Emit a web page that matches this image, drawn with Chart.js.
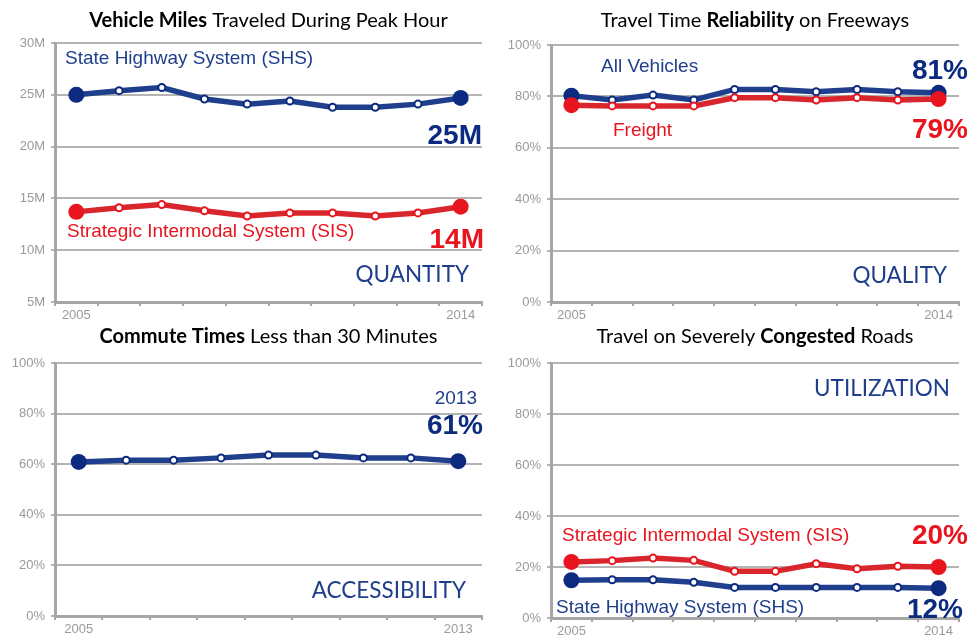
<!DOCTYPE html>
<html>
<head>
<meta charset="utf-8">
<script src="https://cdn.jsdelivr.net/npm/chart.js@4.4.1/dist/chart.umd.min.js"></script>
<style>
  body { margin: 0; background: #fff; }
  #wrap { position: relative; width: 967px; height: 643px; overflow: hidden; }
  canvas { position: absolute; }
</style>
</head>
<body>
<div id="wrap">
  <canvas id="vmtChart" width="490" height="330" style="left:0;top:0"></canvas>
  <canvas id="relChart" width="477" height="330" style="left:490px;top:0"></canvas>
  <canvas id="commuteChart" width="490" height="323" style="left:0;top:320px"></canvas>
  <canvas id="congChart" width="477" height="323" style="left:490px;top:320px"></canvas>
</div>
<script>
// years on the x axis
const years10 = ['2005', '2006', '2007', '2008', '2009', '2010', '2011', '2012', '2013', '2014'];
const years9 = ['2005', '2006', '2007', '2008', '2009', '2010', '2011', '2012', '2013'];

// vehicle miles traveled during peak hour (millions)
const vmtShs = [25.0, 25.4, 25.7, 24.6, 24.1, 24.4, 23.8, 23.8, 24.1, 24.7];
const vmtSis = [13.7, 14.1, 14.4, 13.8, 13.3, 13.6, 13.6, 13.3, 13.6, 14.2];
const vmtTicks = [5, 10, 15, 20, 25, 30];

// travel time reliability on freeways (%)
const relAll = [80.3, 78.6, 80.5, 78.6, 82.7, 82.7, 81.8, 82.7, 81.8, 81.4];
const relFreight = [76.6, 76.3, 76.3, 76.3, 79.5, 79.5, 78.6, 79.5, 78.6, 79.0];

// commute times less than 30 minutes (%)
const commute = [60.9, 61.6, 61.6, 62.5, 63.6, 63.6, 62.5, 62.5, 61.2];

// travel on severely congested roads (%)
const congSis = [22.0, 22.5, 23.5, 22.6, 18.3, 18.3, 21.3, 19.3, 20.3, 20.0];
const congShs = [14.8, 15.0, 15.0, 14.0, 12.0, 12.0, 12.0, 12.0, 12.0, 11.7];
const pctTicks = [0, 20, 40, 60, 80, 100];

const BLUE_LINE = '#1f3f8c';
const BLUE_DOT = '#0b2a80';
const RED_LINE = '#d9262c';
const RED_DOT = '#e8141e';
const NAVY_TEXT = '#1f3f8c';
const GRID = '#b4b4b4';
const AXIS = '#a6a6a6';
const TICK_TEXT = '#9a9a9a';
const SANS = '"Liberation Sans", Arial, sans-serif';
const TITLE_FONT = 'Lato, "Open Sans", sans-serif';
const BIG_WORD = '22.5px ' + TITLE_FONT;

function lastOf(arr) { return arr[arr.length - 1]; }

// line dataset: big filled dots at both ends, small hollow dots in between
function series(values, line, dot, order) {
    const n = values.length;
    const isEnd = c => c.dataIndex === 0 || c.dataIndex === n - 1;
    return {
        data: values,
        borderColor: line,
        borderWidth: 5.5,
        pointRadius: c => isEnd(c) ? 8 : 3.5,
        pointBorderWidth: c => isEnd(c) ? 0 : 2,
        pointBackgroundColor: c => isEnd(c) ? dot : '#fff',
        pointBorderColor: dot,
        tension: 0,
        order: order
    };
}

// titles with a bold part and free text labels, drawn after the chart
const overlayPlugin = {
    id: 'overlay',
    afterDraw(chart, args, opts) {
        const ctx = chart.ctx;
        const area = chart.chartArea;
        ctx.save();
        // title centered over the plot area
        const parts = opts.title;
        let total = 0;
        parts.forEach(p => {
            ctx.font = (p.bold ? 'bold ' : '') + '20px ' + TITLE_FONT;
            p.w = ctx.measureText(p.text).width;
            total += p.w;
        });
        let x = (area.left + area.right) / 2 - total / 2;
        ctx.fillStyle = '#000';
        ctx.textBaseline = 'alphabetic';
        ctx.textAlign = 'left';
        parts.forEach(p => {
            ctx.font = (p.bold ? 'bold ' : '') + '20px ' + TITLE_FONT;
            ctx.fillText(p.text, x, opts.titleY);
            x += p.w;
        });
        opts.labels.forEach(l => {
            ctx.font = l.font;
            ctx.fillStyle = l.color;
            ctx.textAlign = l.align || 'left';
            ctx.fillText(l.text, l.x, l.y);
        });
        ctx.restore();
    }
};

function makeChart(id, labels, datasets, yMin, yMax, yTicks, suffix, box, overlay) {
    const ctx = document.getElementById(id).getContext('2d');
    return new Chart(ctx, {
        type: 'line',
        data: { labels: labels, datasets: datasets },
        plugins: [overlayPlugin],
        options: {
            responsive: false,
            animation: false,
            devicePixelRatio: 1,
            layout: { padding: { top: box.top, right: 0, left: 0, bottom: 0 } },
            plugins: {
                legend: { display: false },
                tooltip: { enabled: false },
                overlay: overlay
            },
            scales: {
                x: {
                    offset: true,
                    grid: { drawOnChartArea: false, offset: true, tickLength: 4, color: AXIS, lineWidth: 2 },
                    border: { color: AXIS, width: 3 },
                    ticks: {
                        autoSkip: false,
                        maxRotation: 0,
                        padding: 2,
                        color: TICK_TEXT,
                        font: { family: SANS, size: 13 },
                        callback: (v, i) => (i === 0 || i === labels.length - 1) ? labels[i] : ''
                    },
                    afterFit: s => { s.height = box.xh; }
                },
                y: {
                    min: yMin,
                    max: yMax,
                    afterBuildTicks: s => { s.ticks = yTicks.map(v => ({ value: v })); },
                    grid: { color: GRID, lineWidth: 2, tickLength: 4 },
                    border: { color: AXIS, width: 3 },
                    ticks: {
                        padding: 6,
                        color: TICK_TEXT,
                        font: { family: SANS, size: 13 },
                        callback: v => v + suffix
                    },
                    afterFit: s => { s.width = box.yw; }
                }
            }
        }
    });
}

// Vehicle Miles Traveled
makeChart('vmtChart', years10,
    [series(vmtShs, BLUE_LINE, BLUE_DOT, 1), series(vmtSis, RED_LINE, RED_DOT, 0)],
    5, 30, vmtTicks, 'M', { top: 43, xh: 28, yw: 55 },
    {
        titleY: 27,
        title: [{ text: 'Vehicle Miles', bold: true }, { text: ' Traveled During Peak Hour' }],
        labels: [
            { text: 'State Highway System (SHS)', x: 65, y: 64, font: '19px ' + SANS, color: NAVY_TEXT },
            { text: Math.round(lastOf(vmtShs)) + 'M', x: 482, y: 144, align: 'right', font: 'bold 28px ' + SANS, color: BLUE_DOT },
            { text: 'Strategic Intermodal System (SIS)', x: 67, y: 237, font: '19px ' + SANS, color: RED_DOT },
            { text: Math.round(lastOf(vmtSis)) + 'M', x: 484, y: 248, align: 'right', font: 'bold 28px ' + SANS, color: RED_DOT },
            { text: 'QUANTITY', x: 469, y: 282, align: 'right', font: BIG_WORD, color: NAVY_TEXT }
        ]
    });

// Travel Time Reliability
makeChart('relChart', years10,
    [series(relAll, BLUE_LINE, BLUE_DOT, 1), series(relFreight, RED_LINE, RED_DOT, 0)],
    0, 100, pctTicks, '%', { top: 45, xh: 28, yw: 61 },
    {
        titleY: 27,
        title: [{ text: 'Travel Time ' }, { text: 'Reliability', bold: true }, { text: ' on Freeways' }],
        labels: [
            { text: 'All Vehicles', x: 111, y: 72, font: '19px ' + SANS, color: NAVY_TEXT },
            { text: Math.round(lastOf(relAll)) + '%', x: 478, y: 79, align: 'right', font: 'bold 28px ' + SANS, color: BLUE_DOT },
            { text: 'Freight', x: 123, y: 136, font: '19px ' + SANS, color: RED_DOT },
            { text: Math.round(lastOf(relFreight)) + '%', x: 478, y: 138, align: 'right', font: 'bold 28px ' + SANS, color: RED_DOT },
            { text: 'QUALITY', x: 457, y: 283, align: 'right', font: BIG_WORD, color: NAVY_TEXT }
        ]
    });

// Commute Times
makeChart('commuteChart', years9,
    [series(commute, BLUE_LINE, BLUE_DOT, 0)],
    0, 100, pctTicks, '%', { top: 43, xh: 27, yw: 55 },
    {
        titleY: 23,
        title: [{ text: 'Commute Times', bold: true }, { text: ' Less than 30 Minutes' }],
        labels: [
            { text: lastOf(years9), x: 477, y: 84, align: 'right', font: '19px ' + SANS, color: NAVY_TEXT },
            { text: Math.round(lastOf(commute)) + '%', x: 483, y: 114, align: 'right', font: 'bold 28px ' + SANS, color: BLUE_DOT },
            { text: 'ACCESSIBILITY', x: 466, y: 278, align: 'right', font: BIG_WORD, color: NAVY_TEXT }
        ]
    });

// Severely Congested Roads
makeChart('congChart', years10,
    [series(congSis, RED_LINE, RED_DOT, 1), series(congShs, BLUE_LINE, BLUE_DOT, 0)],
    0, 100, pctTicks, '%', { top: 43, xh: 25, yw: 61 },
    {
        titleY: 23,
        title: [{ text: 'Travel on Severely ' }, { text: 'Congested', bold: true }, { text: ' Roads' }],
        labels: [
            { text: 'UTILIZATION', x: 460, y: 76, align: 'right', font: BIG_WORD, color: NAVY_TEXT },
            { text: 'Strategic Intermodal System (SIS)', x: 72, y: 221, font: '19px ' + SANS, color: RED_DOT },
            { text: Math.round(lastOf(congSis)) + '%', x: 478, y: 224, align: 'right', font: 'bold 28px ' + SANS, color: RED_DOT },
            { text: 'State Highway System (SHS)', x: 66, y: 293, font: '19px ' + SANS, color: NAVY_TEXT },
            { text: Math.round(lastOf(congShs)) + '%', x: 473, y: 298, align: 'right', font: 'bold 28px ' + SANS, color: BLUE_DOT }
        ]
    });
</script>
</body>
</html>
